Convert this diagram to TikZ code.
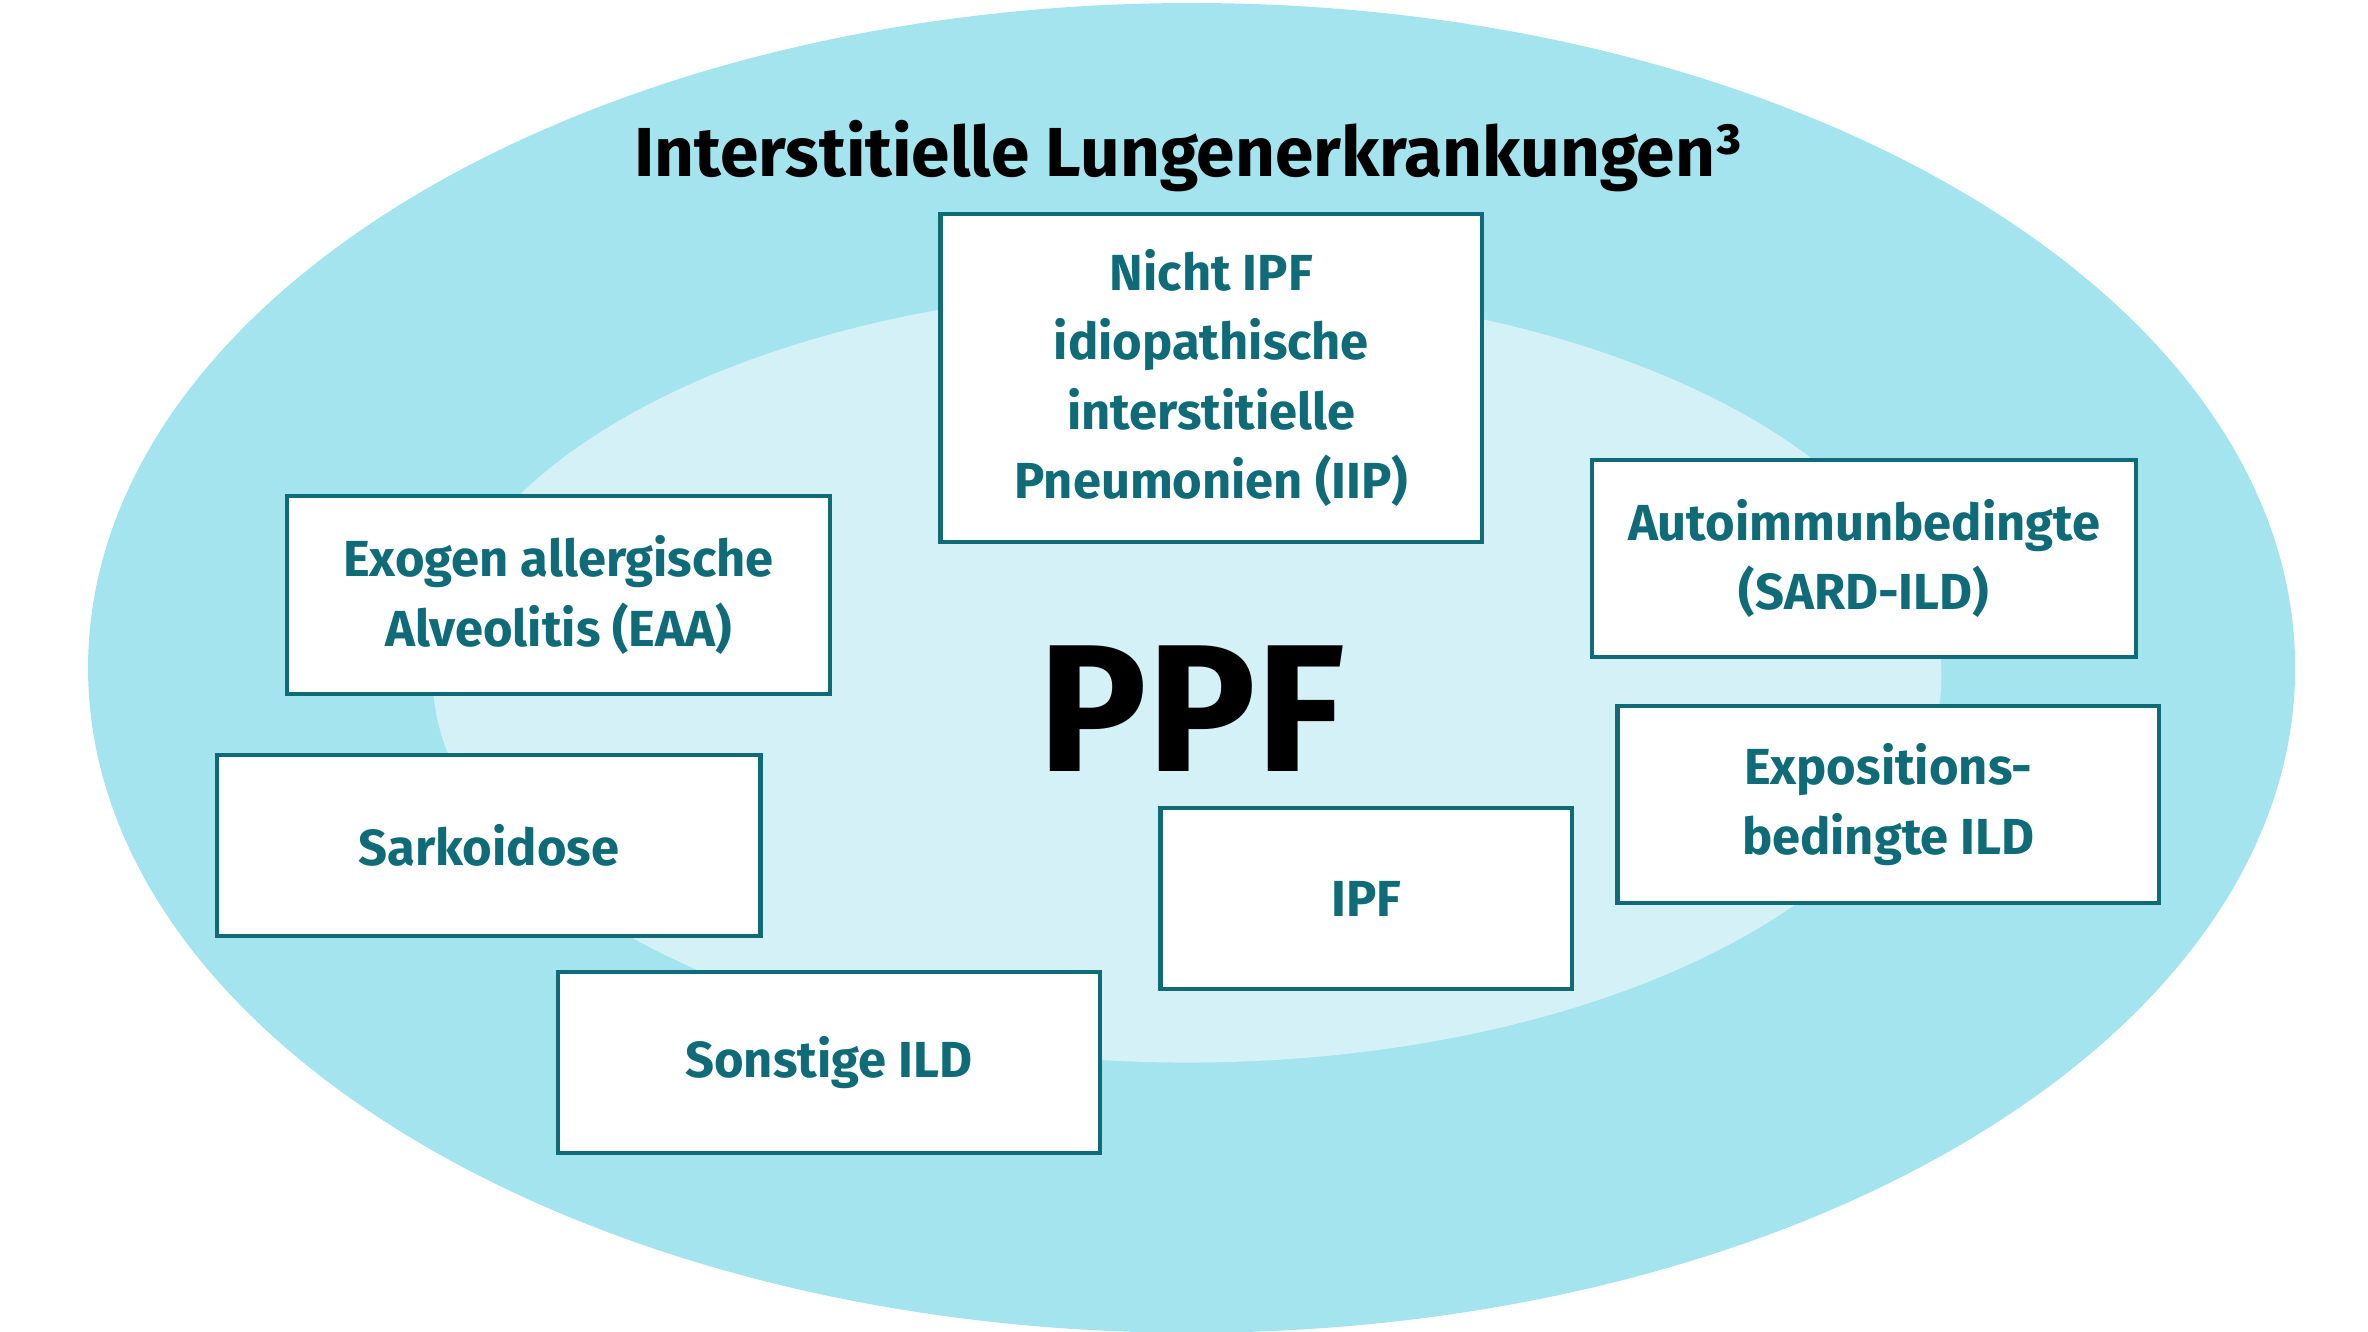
\documentclass[tikz,border=0pt]{standalone}
\usepackage{fontspec}
\setmainfont{Fira Sans}
\definecolor{outerc}{HTML}{A3E4EE}
\definecolor{innerc}{HTML}{D3F1F6}
\definecolor{teal}{HTML}{0E6B77}
\begin{document}
\begin{tikzpicture}[x=0.1mm,y=-0.1mm,
  box/.style={draw=teal,line width=0.8pt,fill=white,align=center,text=teal,font=\fontsize{9.5}{13}\selectfont\bfseries}]
\useasboundingbox (0,0) rectangle (1560,877.5);
\fill[outerc] (785,440) ellipse [x radius=727, y radius=438];
\fill[innerc] (782,445) ellipse [x radius=497, y radius=255];
\node[font=\fontsize{13}{15}\selectfont\bfseries] (title) at (783,103) {Interstitielle Lungenerkrankungen³};
\node[font=\fontsize{34}{36}\selectfont\bfseries] (ppf) at (785,467) {PPF};
\node[box,minimum width=357*0.1mm,minimum height=216*0.1mm] (niipf) at (798,249) {Nicht IPF\\idiopathische\\interstitielle\\Pneumonien (IIP)};
\node[box,minimum width=358*0.1mm,minimum height=130*0.1mm] (eaa) at (368,392) {Exogen allergische\\Alveolitis (EAA)};
\node[box,minimum width=358*0.1mm,minimum height=130*0.1mm] (sard) at (1228,368) {Autoimmunbedingte\\(SARD-ILD)};
\node[box,minimum width=358*0.1mm,minimum height=119*0.1mm] (sark) at (322,557) {Sarkoidose};
\node[box,minimum width=357*0.1mm,minimum height=130*0.1mm] (expo) at (1244,530) {Expositions-\\bedingte ILD};
\node[box,minimum width=271*0.1mm,minimum height=119*0.1mm] (ipf) at (900,592) {IPF};
\node[box,minimum width=357*0.1mm,minimum height=119*0.1mm] (sonst) at (546,700) {Sonstige ILD};
\end{tikzpicture}
\end{document}
